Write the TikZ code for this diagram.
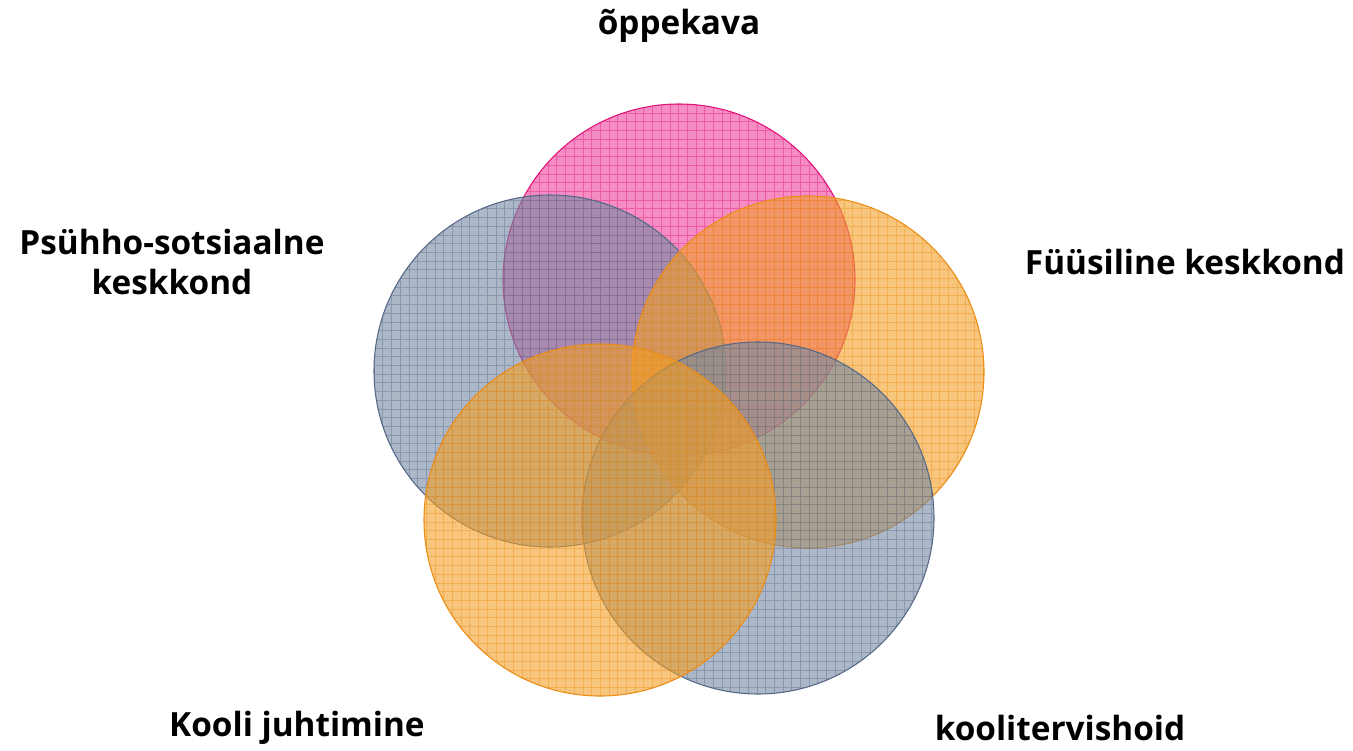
\documentclass[tikz,border=0pt]{standalone}
\usepackage{fontspec}
\setmainfont{Open Sans}
\definecolor{pinkfill}{RGB}{238,63,155}
\definecolor{pinkline}{RGB}{225,20,120}
\definecolor{orfill}{RGB}{243,158,38}
\definecolor{orline}{RGB}{235,140,20}
\definecolor{bluefill}{RGB}{117,137,163}
\definecolor{blueline}{RGB}{85,105,135}
\tikzset{
  lbl/.style={font=\bfseries\fontsize{25}{30}\selectfont, align=center, text=black},
}
\newcommand{\gridcircle}[4]{% center x, center y, fill, line
  \begin{scope}
    \fill[#3, fill opacity=0.6] (#1,#2) circle[radius=176];
    \clip (#1,#2) circle[radius=176];
    \draw[#4, draw opacity=0.4, line width=0.5pt, step=6.525pt] (#1-180,#2-180) grid (#1+180,#2+180);
  \end{scope}
  \draw[#4, line width=0.8pt] (#1,#2) circle[radius=176];
}
\begin{document}
\begin{tikzpicture}[x=0.75pt,y=-0.75pt]
\useasboundingbox (0,0) rectangle (1353,750);
\gridcircle{679}{280}{pinkfill}{pinkline}
\gridcircle{550}{371}{bluefill}{blueline}
\gridcircle{808}{372}{orfill}{orline}
\gridcircle{758}{518}{bluefill}{blueline}
\gridcircle{600}{520}{orfill}{orline}
\node[lbl] (t1) at (679,26) {õppekava};
\node[lbl] (t2) at (172,262) {Psühho-sotsiaalne\\keskkond};
\node[lbl] (t3) at (1185,262) {Füüsiline keskkond};
\node[lbl] (t4) at (297,728) {Kooli juhtimine};
\node[lbl] (t5) at (1060,728) {koolitervishoid};
\end{tikzpicture}
\end{document}
